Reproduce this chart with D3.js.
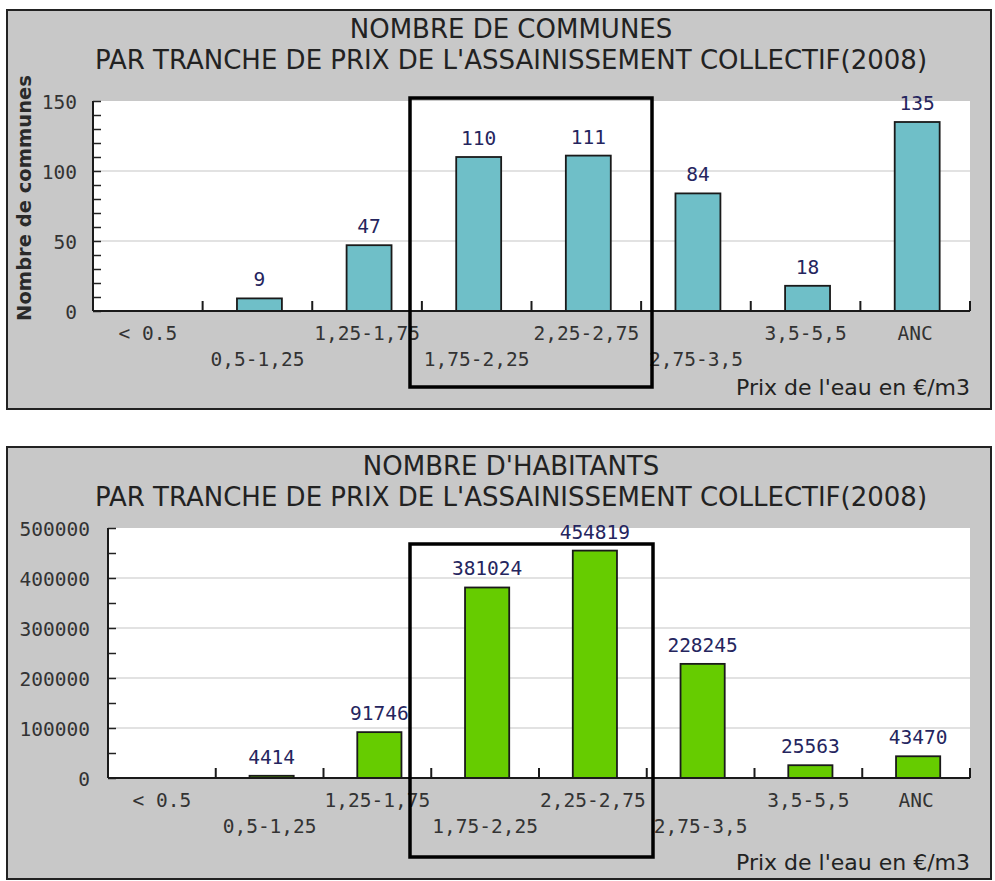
<!DOCTYPE html>
<html>
<head>
<meta charset="utf-8">
<script src="https://cdn.jsdelivr.net/npm/d3@7"></script>
<style>
  body { margin: 0; background: #fff; }
  svg { display: block; }
</style>
</head>
<body>
<div id="chart"></div>
<script>
// price brackets (€/m3) and the two series
const categories = ['< 0.5', '0,5-1,25', '1,25-1,75', '1,75-2,25', '2,25-2,75', '2,75-3,5', '3,5-5,5', 'ANC']
const lowerRow = ['0,5-1,25', '1,75-2,25', '2,75-3,5']
const communes = [0, 9, 47, 110, 111, 84, 18, 135]
const habitants = [0, 4414, 91746, 381024, 454819, 228245, 25563, 43470]
const communesTicks = [0, 50, 100, 150]
const habitantsTicks = [0, 100000, 200000, 300000, 400000, 500000]

const width = 995
const height = 881
const mono = '"DejaVu Sans Mono", monospace'
const sans = '"DejaVu Sans", Verdana, sans-serif'

const svg = d3
  .select('#chart')
  .append('svg')
  .attr('width', width)
  .attr('height', height)

function drawChart(cfg) {
  const g = svg.append('g')

  g.append('rect')
    .attr('x', cfg.panel.x)
    .attr('y', cfg.panel.y)
    .attr('width', cfg.panel.w)
    .attr('height', cfg.panel.h)
    .attr('fill', '#c8c8c8')
    .attr('stroke', '#222')
    .attr('stroke-width', 2)

  const xScale = d3
    .scaleBand()
    .domain(categories)
    .range([cfg.plot.left, cfg.plot.right])
    .paddingInner(0.59)
    .paddingOuter(0.295)

  const yMax = d3.max(cfg.ticks)
  const yScale = d3
    .scaleLinear()
    .domain([0, yMax])
    .range([cfg.plot.bottom, cfg.plot.top])

  const edge = xScale.step() * xScale.paddingOuter()

  // white plot area
  g.append('rect')
    .attr('x', cfg.plot.left)
    .attr('y', yScale(yMax))
    .attr('width', cfg.plot.right - cfg.plot.left)
    .attr('height', yScale(0) - yScale(yMax))
    .attr('fill', '#fff')

  // gridlines
  g.selectAll('.grid')
    .data(cfg.ticks.filter(t => t > 0 && t < yMax))
    .enter()
    .append('line')
    .attr('class', 'grid')
    .attr('x1', cfg.plot.left)
    .attr('x2', cfg.plot.right)
    .attr('y1', d => yScale(d))
    .attr('y2', d => yScale(d))
    .attr('stroke', '#d9d9d9')
    .attr('stroke-width', 1.5)

  // small inward ticks on the y axis
  const minor = d3.axisRight(yScale).ticks(cfg.minor).tickSize(8).tickFormat('')
  g.append('g')
    .attr('transform', 'translate(' + cfg.plot.left + ',0)')
    .call(minor)
    .call(a => a.select('.domain').remove())
    .selectAll('line')
    .attr('stroke', '#222')
    .attr('stroke-width', 1.5)

  // y labels
  const yAxis = d3
    .axisLeft(yScale)
    .tickValues(cfg.ticks)
    .tickSize(0)
    .tickPadding(cfg.labelGap)
    .tickFormat(d3.format('d'))
  g.append('g')
    .attr('transform', 'translate(' + cfg.plot.left + ',0)')
    .call(yAxis)
    .call(a => a.select('.domain').remove())
    .selectAll('text')
    .attr('dy', '0.4em')
    .style('font-family', mono)
    .style('font-size', '19.5px')
    .attr('fill', '#333')

  // bars
  g.selectAll('.bar')
    .data(cfg.values)
    .enter()
    .append('rect')
    .attr('class', 'bar')
    .attr('x', (d, i) => xScale(categories[i]) + 2)
    .attr('y', d => yScale(d))
    .attr('width', xScale.bandwidth())
    .attr('height', d => yScale(0) - yScale(d))
    .attr('fill', cfg.color)
    .attr('stroke', '#1a1a1a')
    .attr('stroke-width', 1.8)
    .style('display', d => (d > 0 ? null : 'none'))

  // value labels
  g.selectAll('.value')
    .data(cfg.values)
    .enter()
    .append('text')
    .attr('class', 'value')
    .attr('x', (d, i) => xScale(categories[i]) + xScale.bandwidth() / 2 + 2)
    .attr('y', d => yScale(d) - 12)
    .attr('text-anchor', 'middle')
    .style('font-family', mono)
    .style('font-size', '19.5px')
    .attr('fill', '#25255e')
    .text(d => (d > 0 ? d : ''))

  // axis lines
  g.append('line')
    .attr('x1', cfg.plot.left)
    .attr('x2', cfg.plot.right)
    .attr('y1', yScale(0))
    .attr('y2', yScale(0))
    .attr('stroke', '#1a1a1a')
    .attr('stroke-width', 2)
  g.append('line')
    .attr('x1', cfg.plot.left)
    .attr('x2', cfg.plot.left)
    .attr('y1', yScale(0))
    .attr('y2', yScale(yMax))
    .attr('stroke', '#1a1a1a')
    .attr('stroke-width', 2)

  // boundary ticks between brackets
  const bounds = categories.slice(1).map(c => xScale(c) - edge).concat([cfg.plot.right])
  g.selectAll('.xtick')
    .data(bounds)
    .enter()
    .append('line')
    .attr('x1', d => d)
    .attr('x2', d => d)
    .attr('y1', yScale(0))
    .attr('y2', yScale(0) - 10)
    .attr('stroke', '#1a1a1a')
    .attr('stroke-width', 2)

  // x labels, staggered on two rows
  g.selectAll('.xlabel')
    .data(categories)
    .enter()
    .append('text')
    .attr('class', 'xlabel')
    .attr('x', d => xScale(d) + xScale.bandwidth() / 2)
    .attr('y', d => yScale(0) + (lowerRow.includes(d) ? 55 : 29))
    .attr('text-anchor', 'middle')
    .style('font-family', mono)
    .style('font-size', '19.5px')
    .attr('fill', '#333')
    .text(d => d)

  // titles
  g.selectAll('.title')
    .data(cfg.title)
    .enter()
    .append('text')
    .attr('x', 511)
    .attr('y', (d, i) => cfg.panel.y + 28 + i * 31)
    .attr('text-anchor', 'middle')
    .style('font-family', sans)
    .style('font-size', '26px')
    .attr('fill', '#222')
    .text(d => d)

  g.append('text')
    .attr('x', cfg.plot.right)
    .attr('y', cfg.xTitleY)
    .attr('text-anchor', 'end')
    .style('font-family', sans)
    .style('font-size', '22px')
    .attr('fill', '#222')
    .text("Prix de l'eau en €/m3")

  if (cfg.yTitle) {
    g.append('text')
      .attr('transform', 'translate(31,198) rotate(-90)')
      .attr('text-anchor', 'middle')
      .style('font-family', sans)
      .style('font-size', '19.5px')
      .style('font-weight', 'bold')
      .attr('fill', '#2a2a2a')
      .text(cfg.yTitle)
  }

  // black frame drawn over the 1,75 - 2,75 brackets
  g.append('rect')
    .attr('x', cfg.frame.x0)
    .attr('y', cfg.frame.y0)
    .attr('width', cfg.frame.x1 - cfg.frame.x0)
    .attr('height', cfg.frame.y1 - cfg.frame.y0)
    .attr('fill', 'none')
    .attr('stroke', '#000')
    .attr('stroke-width', 3.5)
}

drawChart({
  panel: { x: 7, y: 10, w: 984, h: 399 },
  plot: { left: 93, right: 970, top: 101, bottom: 311 },
  values: communes,
  ticks: communesTicks,
  minor: 15,
  labelGap: 16,
  color: '#6fbfc8',
  title: ['NOMBRE DE COMMUNES', "PAR TRANCHE DE PRIX DE L'ASSAINISSEMENT COLLECTIF(2008)"],
  yTitle: 'Nombre de communes',
  xTitleY: 395,
  frame: { x0: 410, x1: 652, y0: 98, y1: 387 }
})

drawChart({
  panel: { x: 7, y: 447, w: 984, h: 432 },
  plot: { left: 108, right: 970, top: 528, bottom: 778 },
  values: habitants,
  ticks: habitantsTicks,
  minor: 10,
  labelGap: 18,
  color: '#66cc00',
  title: ["NOMBRE D'HABITANTS", "PAR TRANCHE DE PRIX DE L'ASSAINISSEMENT COLLECTIF(2008)"],
  yTitle: null,
  xTitleY: 870,
  frame: { x0: 410, x1: 653, y0: 544, y1: 857 }
})
</script>
</body>
</html>
